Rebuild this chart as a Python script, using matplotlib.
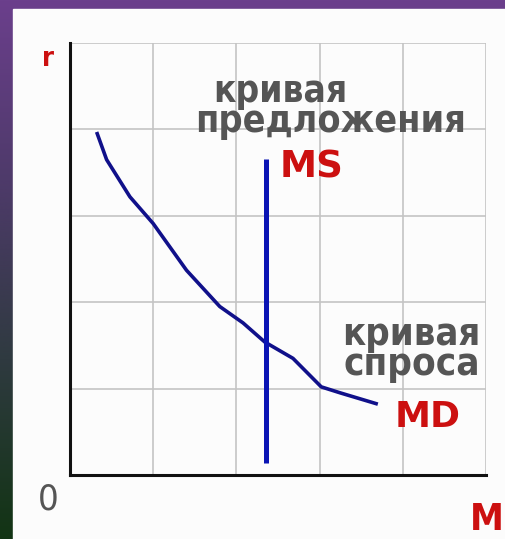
import numpy as np
import matplotlib
matplotlib.use('Agg')
import matplotlib.pyplot as plt
from matplotlib import font_manager as fm
from matplotlib.patches import Rectangle

# Данные кривых (оценка по картинке)
md_x = [0.32, 0.44, 0.72, 1.00, 1.40, 1.80, 2.08, 2.34, 2.68, 3.02, 3.25, 3.70]
md_y = [3.97, 3.65, 3.22, 2.91, 2.37, 1.95, 1.76, 1.54, 1.35, 1.02, 0.95, 0.82]
ms_x = [2.35, 2.35]
ms_y = [0.14, 3.66]

W, H = 506, 539


# Ищем узкий жирный шрифт, если он есть
def find_narrow(bold=True):
    best = None
    for f in fm.fontManager.ttflist:
        nm = f.name + ' ' + f.fname
        narrow = ('Narrow' in nm or 'Condensed' in nm
                  or str(f.stretch) in ('condensed', 'semi-condensed', '75', '87'))
        if not narrow:
            continue
        w = f.weight if isinstance(f.weight, int) else (700 if 'bold' in str(f.weight) else 400)
        if bold != (w >= 600):
            continue
        if 'Italic' in f.fname or 'Oblique' in f.fname or str(f.style) != 'normal':
            continue
        if best is None or 'Liberation' in f.fname:
            best = f
    if best is None:
        return fm.FontProperties(family='DejaVu Sans',
                                 weight='bold' if bold else 'normal')
    return fm.FontProperties(fname=best.fname)


fp_bold = find_narrow(True)
fp_reg = find_narrow(False)

fig = plt.figure(figsize=(W / 100, H / 100), dpi=100)

# Фон: градиент слева и фиолетовая полоса сверху
bg = fig.add_axes([0, 0, 1, 1])
grad = np.linspace(0, 1, 256).reshape(-1, 1)
cmap = matplotlib.colors.LinearSegmentedColormap.from_list(
    'bg', ['#6b3f8c', '#4e3a6a', '#2f3a40', '#123414'])
bg.imshow(grad, cmap=cmap, aspect='auto', extent=[0, 1, 0, 1])
bg.add_patch(Rectangle((13 / W, 0), 1, 1 - 9 / H, color='#fcfcfc', zorder=2))
bg.set_xlim(0, 1)
bg.set_ylim(0, 1)
bg.axis('off')

ax = fig.add_axes([70 / W, 64 / H, 416 / W, 432 / H])
ax.set_facecolor('none')
ax.set_xlim(0, 5)
ax.set_ylim(0, 5)
ax.set_xticks(range(6))
ax.set_yticks(range(6))
ax.grid(True, color='#c4c4c4', linewidth=1.2)
ax.tick_params(length=0, labelbottom=False, labelleft=False)
for s in ['top', 'right']:
    ax.spines[s].set_visible(False)
for s in ['left', 'bottom']:
    ax.spines[s].set_linewidth(2.2)
    ax.spines[s].set_color('#111111')

ax.plot(md_x, md_y, color='#10108a', linewidth=2.6, solid_capstyle='butt')
ax.plot(ms_x, ms_y, color='#0a14b4', linewidth=3.6, solid_capstyle='butt')

red = '#cc1010'
gray = '#555555'


def px(x, y):
    return x / W, 1 - y / H


def label(x, y, s, color, fp, size, width=None):
    t = fig.text(*px(x, y), s, color=color, fontproperties=fp.copy(),
                 va='baseline')
    t.set_fontsize(size)
    if width is not None:
        r = fig.canvas.get_renderer()
        w = t.get_window_extent(renderer=r).width
        t.set_fontsize(size * width / w)
    return t


label(42, 66, 'r', red, fp_bold, 22, width=12)
label(38, 510, '0', gray, fp_reg, 28, width=21)
label(470, 530, 'M', red, fp_bold, 27, width=34)

label(213, 102, 'кривая', gray, fp_bold, 29, width=134)
label(195, 132, 'предложения', gray, fp_bold, 29, width=270)
label(280, 178, 'MS', red, fm.FontProperties(family='DejaVu Sans', weight='bold'), 26, width=64)

label(342, 345, 'кривая', gray, fp_bold, 29, width=138)
label(344, 375, 'спроса', gray, fp_bold, 29, width=136)
label(395, 427, 'MD', red, fm.FontProperties(family='DejaVu Sans', weight='bold'), 26, width=66)

fig.savefig('out.png', dpi=100)
